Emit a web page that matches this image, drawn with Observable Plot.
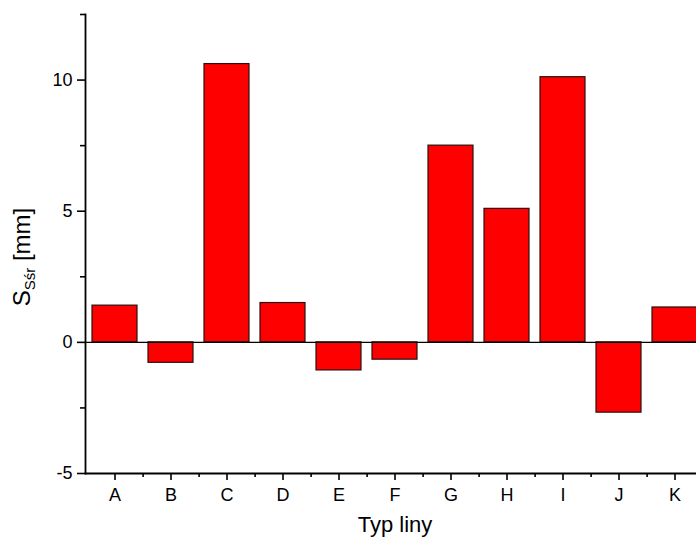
<!DOCTYPE html>
<html>
<head>
<meta charset="utf-8">
<script src="https://cdn.jsdelivr.net/npm/d3@7"></script>
<script src="https://cdn.jsdelivr.net/npm/@observablehq/plot@0.6"></script>
<style>
  html, body { margin: 0; padding: 0; background: #fff; overflow: hidden; }
  #chart { width: 696px; height: 544px; }
</style>
</head>
<body>
<div id="chart"></div>
<script>
const categories = ["A", "B", "C", "D", "E", "F", "G", "H", "I", "J", "K"];
const values = [1.40, -0.78, 10.61, 1.50, -1.07, -0.66, 7.50, 5.09, 10.11, -2.68, 1.33];
const majorTicks = [-5, 0, 5, 10];
const minorTicks = [-2.5, 2.5, 7.5, 12.5];
const xTitle = "Typ liny";

const data = categories.map((c, i) => ({cat: c, val: values[i]}));
const font = "'Liberation Sans', Arial, Helvetica, sans-serif";

const chart = Plot.plot({
  width: 696,
  height: 544,
  marginLeft: 85,
  marginRight: 0,
  marginTop: 14,
  marginBottom: 71,
  style: {fontFamily: font, fontSize: "18px", color: "#000", background: "#fff", overflow: "visible"},
  x: {type: "band", domain: categories, range: [85, 703], paddingInner: 0.2, paddingOuter: 0.1, label: null},
  y: {domain: [-5, 12.5], label: null},
  marks: [
    Plot.barY(data, {x: "cat", y: "val", fill: "#ff0000", stroke: "#2a1010", strokeWidth: 1.2}),
    Plot.ruleY([0], {stroke: "#000", strokeWidth: 1.3}),
    Plot.axisY({ticks: majorTicks, tickSize: 8, tickPadding: 5, fontSize: 18, tickFormat: d => String(d), strokeWidth: 1.6, label: null}),
    Plot.axisY({ticks: minorTicks, tickSize: 5, tickFormat: () => "", strokeWidth: 1.6, label: null}),
    Plot.axisX({tickSize: 7, tickPadding: 8, fontSize: 18, strokeWidth: 1.6, label: null}),
    Plot.axisX({ticks: categories, tickSize: 4, dx: 28.1, tickFormat: () => "", strokeWidth: 1.6, label: null}),
    Plot.frame({anchor: "left", strokeWidth: 1.8}),
    Plot.frame({anchor: "bottom", strokeWidth: 1.8}),
    Plot.text([xTitle], {frameAnchor: "bottom", dy: 58, dx: 4, fontSize: 22, fill: "#000"})
  ]
});

document.getElementById("chart").appendChild(chart);

const svg = d3.select(chart.tagName.toLowerCase() === "svg" ? chart : chart.querySelector("svg"));

// y-axis title with subscript
const t = svg.append("text")
  .attr("transform", "translate(30,257) rotate(-90)")
  .attr("text-anchor", "middle")
  .attr("font-family", font)
  .attr("font-size", 24)
  .attr("fill", "#000");
t.append("tspan").text("S");
t.append("tspan").attr("font-size", 15).attr("dy", 5).text("Sśr");
t.append("tspan").attr("dy", -5).text(" [mm]");
</script>
</body>
</html>
